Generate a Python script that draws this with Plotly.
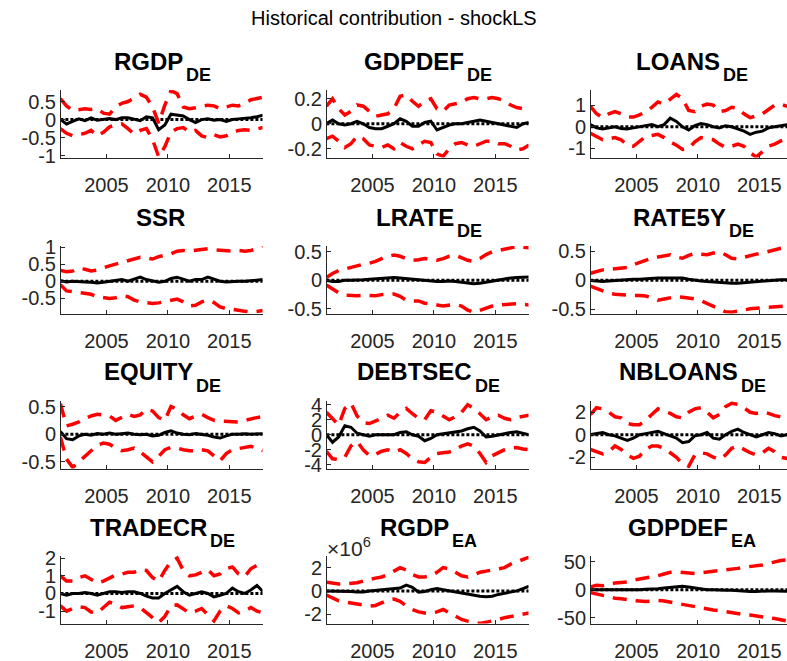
import plotly.graph_objects as go

# ---------------- data ----------------
dates = [2001.25, 2001.75, 2002.25, 2002.75, 2003.25, 2003.75, 2004.25, 2004.75,
         2005.25, 2005.75, 2006.25, 2006.75, 2007.25, 2007.75, 2008.25, 2008.75,
         2009.25, 2009.75, 2010.25, 2010.75, 2011.25, 2011.75, 2012.25, 2012.75,
         2013.25, 2013.75, 2014.25, 2014.75, 2015.25, 2015.75, 2016.25, 2016.75,
         2017.25, 2017.75]

var_names = ["RGDP", "GDPDEF", "LOANS", "SSR", "LRATE", "RATE5Y",
             "EQUITY", "DEBTSEC", "NBLOANS", "TRADECR", "RGDP", "GDPDEF"]
var_subs = ["DE", "DE", "DE", "", "DE", "DE", "DE", "DE", "DE", "DE", "EA", "EA"]

x_ticks = [2005, 2010, 2015]
x_ticklabels = ["2005", "2010", "2015"]

# RGDP_DE
rgdp_de_up = [0.58, 0.38, 0.25, 0.28, 0.30, 0.28, 0.30, 0.18, 0.15, 0.35, 0.45, 0.50, 0.60, 0.70, 0.62, 0.35, -0.10,
              0.40, 0.80, 0.72, 0.35, 0.30, 0.33, 0.36, 0.40, 0.38, 0.30, 0.35, 0.40, 0.38, 0.45, 0.55, 0.58, 0.62]
rgdp_de_lo = [-0.25, -0.38, -0.45, -0.42, -0.38, -0.30, -0.45, -0.35, -0.20, -0.15, -0.12, -0.25, -0.40, -0.30, -0.25,
              -0.55, -1.03, -0.75, -0.35, -0.25, -0.22, -0.35, -0.30, -0.45, -0.50, -0.42, -0.48, -0.45, -0.35, -0.30,
              -0.28, -0.30, -0.25, -0.22]
rgdp_de_md = [0.0, -0.12, -0.05, 0.02, -0.03, 0.05, -0.02, 0.0, 0.03, 0.0, 0.05, 0.05, 0.0, -0.03, 0.08, 0.05, -0.28,
              -0.15, 0.15, 0.12, 0.10, 0.0, -0.08, 0.0, 0.02, -0.02, 0.0, -0.05, 0.0, 0.02, 0.03, 0.05, 0.08, 0.12]

# GDPDEF_DE
gdpdef_de_up = [0.14, 0.20, 0.12, 0.07, 0.10, 0.15, 0.14, 0.10, 0.06, 0.07, 0.08, 0.12, 0.22, 0.23, 0.18, 0.14, 0.18,
                0.20, 0.12, 0.10, 0.15, 0.16, 0.17, 0.20, 0.21, 0.20, 0.20, 0.21, 0.20, 0.18, 0.15, 0.13, 0.12, 0.15]
gdpdef_de_lo = [-0.12, -0.10, -0.14, -0.19, -0.16, -0.10, -0.12, -0.17, -0.18, -0.19, -0.17, -0.20, -0.15, -0.18,
                -0.20, -0.17, -0.14, -0.15, -0.24, -0.26, -0.20, -0.16, -0.15, -0.17, -0.18, -0.16, -0.14, -0.14,
                -0.16, -0.16, -0.18, -0.21, -0.20, -0.17]
gdpdef_de_md = [0.0, 0.03, 0.0, -0.01, 0.0, 0.02, 0.0, -0.03, -0.04, -0.04, -0.02, 0.0, 0.04, 0.02, -0.02, -0.02, 0.01,
                0.02, -0.05, -0.03, -0.01, 0.0, 0.0, 0.01, 0.02, 0.03, 0.02, 0.01, 0.0, -0.01, -0.02, -0.03, 0.0, 0.01]

# LOANS_DE
loans_de_up = [0.95, 0.60, 0.42, 0.60, 0.70, 0.60, 0.45, 0.45, 0.55, 0.70, 0.90, 1.15, 1.05, 1.30, 1.50, 1.30, 0.75,
               0.70, 0.95, 1.05, 1.00, 0.70, 0.75, 0.90, 0.85, 0.60, 0.42, 0.50, 0.60, 0.80, 1.00, 1.05, 0.95, 1.00]
loans_de_lo = [-0.30, -0.45, -0.60, -0.55, -0.50, -0.60, -0.85, -0.90, -0.65, -0.45, -0.40, -0.35, -0.50, -0.70, -0.85,
               -1.05, -1.00, -0.70, -0.50, -0.55, -0.60, -0.80, -0.95, -0.90, -0.80, -0.90, -1.20, -1.40, -1.15, -0.90,
               -0.80, -0.65, -0.55, -0.35]
loans_de_md = [0.10, -0.05, -0.10, -0.05, 0.0, -0.08, -0.10, -0.05, 0.0, 0.05, 0.10, 0.0, 0.10, 0.40, 0.25, 0.0, -0.15,
               0.05, 0.15, 0.10, 0.0, -0.05, 0.05, 0.0, -0.10, -0.20, -0.35, -0.25, -0.20, -0.05, 0.0, 0.05, 0.10, 0.20]

# SSR
ssr_up = [0.32, 0.28, 0.30, 0.38, 0.35, 0.30, 0.33, 0.40, 0.45, 0.50, 0.55, 0.60, 0.65, 0.70, 0.68, 0.65, 0.72, 0.75,
          0.80, 0.88, 0.90, 0.88, 0.90, 0.92, 0.95, 0.92, 0.90, 0.90, 0.88, 0.90, 0.88, 0.90, 0.95, 1.03]
ssr_lo = [-0.10, -0.28, -0.30, -0.33, -0.35, -0.38, -0.45, -0.48, -0.50, -0.48, -0.42, -0.45, -0.55, -0.60, -0.63,
          -0.65, -0.63, -0.60, -0.55, -0.52, -0.60, -0.72, -0.70, -0.60, -0.55, -0.62, -0.75, -0.80, -0.82, -0.85,
          -0.87, -0.90, -0.88, -0.85]
ssr_md = [0.02, -0.02, 0.0, 0.0, -0.02, -0.03, -0.05, -0.03, 0.0, 0.03, 0.05, 0.0, 0.05, 0.12, 0.05, 0.0, -0.03, 0.0,
          0.08, 0.12, 0.05, 0.0, 0.05, 0.05, 0.12, 0.05, 0.0, -0.02, 0.0, 0.0, 0.0, 0.02, 0.03, 0.05]

# LRATE_DE
lrate_de_up = [0.05, 0.12, 0.17, 0.20, 0.22, 0.25, 0.28, 0.30, 0.33, 0.38, 0.42, 0.44, 0.42, 0.38, 0.35, 0.36, 0.38,
               0.37, 0.35, 0.38, 0.42, 0.44, 0.40, 0.35, 0.33, 0.38, 0.45, 0.50, 0.52, 0.54, 0.57, 0.59, 0.58, 0.57]
lrate_de_lo = [-0.08, -0.15, -0.22, -0.26, -0.27, -0.27, -0.26, -0.27, -0.27, -0.25, -0.24, -0.24, -0.28, -0.35,
               -0.36, -0.36, -0.40, -0.41, -0.43, -0.45, -0.44, -0.42, -0.45, -0.52, -0.56, -0.52, -0.48, -0.45,
               -0.43, -0.42, -0.41, -0.41, -0.42, -0.43]
lrate_de_md = [0.0, -0.02, -0.02, 0.0, 0.0, 0.0, 0.01, 0.02, 0.03, 0.03, 0.04, 0.05, 0.04, 0.03, 0.02, 0.0, -0.01,
               -0.02, -0.02, -0.02, -0.01, -0.02, -0.03, -0.05, -0.06, -0.05, -0.03, -0.02, 0.0, 0.02, 0.04, 0.05,
               0.06, 0.06]

# RATE5Y_DE
rate5y_de_up = [0.12, 0.15, 0.18, 0.19, 0.20, 0.20, 0.22, 0.27, 0.31, 0.34, 0.38, 0.40, 0.42, 0.44, 0.40, 0.38, 0.43,
                0.46, 0.45, 0.44, 0.47, 0.49, 0.44, 0.38, 0.37, 0.40, 0.43, 0.45, 0.47, 0.50, 0.52, 0.55, 0.57, 0.58]
rate5y_de_lo = [-0.10, -0.14, -0.18, -0.22, -0.24, -0.25, -0.26, -0.26, -0.26, -0.27, -0.30, -0.34, -0.32, -0.30,
                -0.28, -0.29, -0.30, -0.32, -0.35, -0.40, -0.45, -0.50, -0.54, -0.55, -0.53, -0.50, -0.49, -0.48,
                -0.47, -0.46, -0.45, -0.45, -0.44, -0.44]
rate5y_de_md = [0.0, -0.01, -0.02, -0.01, 0.0, 0.0, 0.01, 0.02, 0.02, 0.03, 0.03, 0.04, 0.04, 0.04, 0.05, 0.04, 0.02,
                0.0, -0.01, -0.02, -0.03, -0.04, -0.05, -0.05, -0.05, -0.04, -0.03, -0.02, -0.01, 0.0, 0.0, 0.01,
                0.01, 0.02]

# EQUITY_DE
equity_de_up = [0.55, 0.15, 0.18, 0.22, 0.28, 0.33, 0.36, 0.35, 0.33, 0.25, 0.30, 0.36, 0.32, 0.35, 0.45, 0.42, 0.30,
                0.25, 0.50, 0.45, 0.35, 0.28, 0.33, 0.36, 0.30, 0.25, 0.24, 0.23, 0.22, 0.22, 0.25, 0.28, 0.30, 0.32]
equity_de_lo = [-0.05, -0.45, -0.60, -0.50, -0.38, -0.28, -0.20, -0.16, -0.18, -0.25, -0.30, -0.28, -0.25, -0.32,
                -0.42, -0.50, -0.40, -0.28, -0.24, -0.25, -0.28, -0.30, -0.30, -0.28, -0.30, -0.40, -0.48, -0.35,
                -0.28, -0.26, -0.24, -0.22, -0.25, -0.30]
equity_de_md = [0.05, -0.08, -0.10, -0.03, 0.0, -0.02, 0.01, 0.0, 0.02, 0.0, 0.01, 0.02, 0.0, -0.01, 0.0, -0.03,
                -0.02, 0.03, 0.06, 0.02, 0.0, -0.01, 0.01, 0.0, -0.02, -0.05, -0.07, -0.03, 0.0, 0.0, 0.01, 0.0,
                0.0, 0.01]

# DEBTSEC_DE
debtsec_de_up = [3.0, 2.2, 1.3, 3.5, 4.2, 2.5, 1.6, 1.5, 1.8, 2.2, 2.6, 2.2, 3.0, 3.5, 2.8, 2.2, 2.0, 3.2, 3.0, 2.5,
                 2.0, 2.4, 3.0, 4.0, 3.5, 2.8, 2.0, 2.4, 2.6, 2.2, 2.0, 2.3, 2.5, 2.6]
debtsec_de_lo = [-2.2, -3.2, -3.3, -3.0, -1.5, -0.9, -2.0, -2.8, -2.6, -2.2, -2.0, -2.3, -2.0, -2.5, -3.2, -3.6,
                 -3.7, -3.0, -2.5, -2.4, -2.3, -2.0, -1.5, -1.2, -1.5, -2.5, -3.7, -2.8, -2.4, -2.0, -1.8, -1.7,
                 -1.9, -2.0]
debtsec_de_md = [0.0, -1.0, -0.3, 1.2, 1.0, 0.2, 0.0, -0.2, 0.0, 0.0, -0.1, 0.0, 0.3, 0.4, 0.0, -0.2, -0.8, -0.5,
                 0.0, 0.1, 0.2, 0.3, 0.5, 0.8, 1.0, 0.5, -0.3, -0.2, 0.0, 0.2, 0.3, 0.4, 0.2, 0.0]

# NBLOANS_DE
nbloans_de_up = [1.8, 2.4, 2.3, 2.0, 1.6, 1.5, 1.0, 0.9, 0.9, 1.3, 1.8, 2.3, 2.1, 1.9, 1.6, 1.5, 2.0, 2.3, 2.4, 2.0,
                 1.5, 1.8, 2.5, 2.8, 2.7, 2.4, 2.0, 1.9, 2.0, 1.9, 1.7, 1.6, 1.6, 1.7]
nbloans_de_lo = [-1.3, -1.5, -1.7, -1.5, -1.0, -1.3, -1.8, -2.1, -1.9, -1.3, -1.0, -1.0, -1.2, -1.6, -2.0, -2.6,
                 -2.8, -1.8, -1.6, -1.7, -2.0, -2.2, -1.8, -1.2, -1.0, -1.3, -1.6, -1.8, -1.6, -1.2, -1.5, -2.0,
                 -2.1, -2.0]
nbloans_de_md = [0.0, 0.1, 0.2, 0.0, -0.1, -0.3, -0.5, -0.3, 0.0, 0.1, 0.2, 0.3, 0.1, -0.1, -0.3, -0.7, -0.6, -0.1,
                 0.0, 0.2, -0.3, -0.4, 0.0, 0.3, 0.5, 0.2, 0.0, -0.2, 0.0, 0.2, 0.1, -0.1, 0.0, 0.1]

# TRADECR_DE
tradecr_de_up = [1.0, 0.7, 0.7, 0.9, 1.0, 0.8, 0.6, 0.7, 0.9, 1.05, 1.1, 1.2, 1.2, 1.35, 1.3, 0.9, 0.7, 1.3, 1.8,
                 2.0, 1.3, 1.0, 1.05, 1.2, 1.35, 1.0, 1.1, 1.4, 1.5, 1.1, 0.95, 1.4, 1.6, 1.25]
tradecr_de_lo = [-0.7, -1.0, -0.85, -0.75, -0.8, -1.05, -1.1, -0.8, -0.5, -0.6, -0.8, -0.75, -0.7, -0.8, -1.1, -1.4,
                 -1.65, -1.3, -0.7, -0.65, -0.9, -1.1, -1.0, -0.85, -1.2, -1.55, -1.0, -0.7, -0.85, -1.1, -1.0, -0.8,
                 -1.0, -1.1]
tradecr_de_md = [0.0, -0.1, 0.0, 0.0, 0.05, 0.0, -0.1, 0.0, 0.1, 0.1, 0.05, 0.1, 0.1, 0.0, -0.15, -0.25, -0.25, 0.0,
                 0.2, 0.4, 0.1, -0.1, 0.0, 0.1, 0.0, -0.2, -0.1, 0.0, 0.3, 0.1, 0.0, 0.2, 0.45, 0.1]

# RGDP_EA (in units of 10^6)
rgdp_ea_up = [0.75, 0.65, 0.6, 0.6, 0.65, 0.7, 0.85, 1.0, 1.1, 1.2, 1.4, 1.7, 2.0, 1.8, 1.4, 1.2, 1.2, 1.3, 1.6, 2.0,
              1.9, 1.6, 1.3, 1.2, 1.4, 1.6, 1.7, 1.8, 1.9, 2.0, 2.3, 2.5, 2.7, 2.9]
rgdp_ea_lo = [-0.35, -0.6, -0.85, -0.95, -1.05, -1.1, -1.2, -1.3, -1.25, -1.0, -0.8, -0.7, -0.9, -1.3, -1.6, -1.8,
              -1.9, -1.9, -1.8, -1.6, -1.9, -2.2, -2.45, -2.6, -2.7, -2.8, -2.7, -2.6, -2.45, -2.3, -2.2, -2.1, -2.0,
              -1.9]
rgdp_ea_md = [0.0, 0.0, 0.0, -0.05, -0.05, -0.1, -0.1, 0.0, 0.05, 0.1, 0.15, 0.2, 0.25, 0.5, 0.3, -0.1, -0.05, 0.1,
              0.2, 0.1, 0.0, -0.1, -0.2, -0.3, -0.35, -0.45, -0.5, -0.45, -0.3, -0.2, -0.1, 0.0, 0.2, 0.4]

# GDPDEF_EA
gdpdef_ea_up = [5, 8, 7, 10, 12, 13, 14, 17, 19, 21, 22, 25, 28, 31, 32, 31, 30, 29, 30, 32, 33, 34, 35, 36, 38, 40,
                41, 42, 44, 47, 50, 52, 53, 55]
gdpdef_ea_lo = [-5, -8, -10, -12, -15, -16, -18, -19, -20, -21, -20, -19, -20, -22, -24, -26, -28, -30, -33, -35,
                -36, -37, -39, -41, -43, -44, -45, -47, -48, -50, -51, -53, -55, -58]
gdpdef_ea_md = [0, 0, 0, -1, -1, -1, 0, 0, 0, 1, 1, 2, 3, 4, 5, 6, 5, 3, 1, 0, 0, -1, -1, -1, -2, -2, -3, -3, -2, -2,
                -2, -2, -2, -3]

zero_line = [0] * len(dates)

uppers = [rgdp_de_up, gdpdef_de_up, loans_de_up, ssr_up, lrate_de_up, rate5y_de_up,
          equity_de_up, debtsec_de_up, nbloans_de_up, tradecr_de_up, rgdp_ea_up, gdpdef_ea_up]
lowers = [rgdp_de_lo, gdpdef_de_lo, loans_de_lo, ssr_lo, lrate_de_lo, rate5y_de_lo,
          equity_de_lo, debtsec_de_lo, nbloans_de_lo, tradecr_de_lo, rgdp_ea_lo, gdpdef_ea_lo]
medians = [rgdp_de_md, gdpdef_de_md, loans_de_md, ssr_md, lrate_de_md, rate5y_de_md,
           equity_de_md, debtsec_de_md, nbloans_de_md, tradecr_de_md, rgdp_ea_md, gdpdef_ea_md]

y_ranges = [[-1.05, 0.82], [-0.27, 0.27], [-1.42, 1.7], [-0.94, 1.03], [-0.58, 0.6], [-0.57, 0.59],
            [-0.62, 0.6], [-4.5, 4.5], [-3.0, 3.0], [-1.7, 2.12], [-2.8, 3.0], [-60, 60]]
y_ticks = [[-1, -0.5, 0, 0.5], [-0.2, 0, 0.2], [-1, 0, 1], [-0.5, 0, 0.5, 1], [-0.5, 0, 0.5], [-0.5, 0, 0.5],
           [-0.5, 0, 0.5], [-4, -2, 0, 2, 4], [-2, 0, 2], [-1, 0, 1, 2], [-2, 0, 2], [-50, 0, 50]]
y_ticklabels = [["-1", "-0.5", "0", "0.5"], ["-0.2", "0", "0.2"], ["-1", "0", "1"], ["-0.5", "0", "0.5", "1"],
                ["-0.5", "0", "0.5"], ["-0.5", "0", "0.5"], ["-0.5", "0", "0.5"], ["-4", "-2", "0", "2", "4"],
                ["-2", "0", "2"], ["-1", "0", "1", "2"], ["-2", "0", "2"], ["-50", "0", "50"]]

# ---------------- layout geometry (window pixels; page margin removed) ----------------
W, H = 787, 661

col_left = [61, 327, 591]
ax_w = 201.5
row_top = [90, 246, 401, 556]
ax_h = 67.5
x0, x1 = 2001.3, 2017.7
px_per_year = ax_w / (x1 - x0)


def fx(px):
    return px / W


def fy(py):
    return 1 - py / H


AXC = "#262626"
FONT = "Liberation Sans, Arial, sans-serif"

BW = {"A": 722, "B": 722, "C": 722, "D": 722, "E": 667, "F": 611, "G": 778, "H": 722, "I": 278, "L": 611,
      "N": 722, "O": 778, "P": 667, "Q": 778, "R": 722, "S": 667, "T": 611, "U": 722, "Y": 667, "5": 556}


def tw(s, size):
    return sum(BW.get(c, 667) for c in s) / 1000.0 * size


fig = go.Figure()
annotations = []
FM, FS = 24, 18

for i in range(12):
    r, c = divmod(i, 3)
    k = "" if i == 0 else str(i + 1)
    left = col_left[c]
    right = min(left + ax_w, W)
    top = row_top[r]
    xr_end = x0 + (right - left) / px_per_year
    xd = [fx(left), fx(right)]
    yd = [fy(top + ax_h), fy(top)]

    fig.add_trace(go.Scatter(x=dates, y=medians[i], mode="lines", line=dict(color="black", width=3),
                             xaxis="x" + k, yaxis="y" + k, showlegend=False, hoverinfo="skip"))
    fig.add_trace(go.Scatter(x=dates, y=zero_line, mode="lines",
                             line=dict(color="black", width=3, dash="3px,2px"),
                             xaxis="x" + k, yaxis="y" + k, showlegend=False, hoverinfo="skip"))
    for band in (uppers[i], lowers[i]):
        fig.add_trace(go.Scatter(x=dates, y=band, mode="lines",
                                 line=dict(color="#ff0000", width=3.5, dash="14px,9px"),
                                 xaxis="x" + k, yaxis="y" + k, showlegend=False, hoverinfo="skip"))

    common = dict(showgrid=False, zeroline=False, showline=True, linecolor=AXC, linewidth=1,
                  ticks="inside", ticklen=4, tickcolor=AXC, tickfont=dict(family=FONT, size=20, color=AXC),
                  ticklabeloverflow="allow", automargin=False)
    fig.update_layout(**{
        "xaxis" + k: dict(domain=xd, range=[x0, xr_end], tickmode="array", tickvals=x_ticks,
                          ticktext=x_ticklabels, anchor="y" + k, ticklabelstandoff=9, **common),
        "yaxis" + k: dict(domain=yd, range=y_ranges[i], tickmode="array", tickvals=y_ticks[i],
                          ticktext=y_ticklabels[i], anchor="x" + k, **common),
    })

    if i == 10:
        annotations.append(dict(text="\u00d710<sup>6</sup>", x=fx(left - 2), y=fy(top - 9),
                                xref="paper", yref="paper", xanchor="left", yanchor="middle", showarrow=False,
                                font=dict(family=FONT, size=21, color=AXC)))

    cx = left + ax_w / 2
    name, sub = var_names[i], var_subs[i]
    wm = tw(name, FM)
    ws = tw(sub, FS) if sub else 0
    xj = cx + (wm - ws) / 2
    annotations.append(dict(text="<b>%s</b>" % name, x=fx(xj + 1), y=fy(top - 29), xref="paper", yref="paper",
                            xanchor="right", yanchor="middle", showarrow=False,
                            font=dict(family=FONT, size=FM, color="black")))
    if sub:
        annotations.append(dict(text="<b>%s</b>" % sub, x=fx(xj), y=fy(top - 15.5), xref="paper",
                                yref="paper", xanchor="left", yanchor="middle", showarrow=False,
                                font=dict(family=FONT, size=FS, color="black")))

annotations.append(dict(text="Historical contribution - shockLS", x=fx(394), y=fy(18), xref="paper", yref="paper",
                        xanchor="center", yanchor="middle", showarrow=False,
                        font=dict(family=FONT, size=20, color="black")))

fig.update_layout(width=W, height=H, margin=dict(l=0, r=0, t=0, b=0, autoexpand=False), paper_bgcolor="white",
                  plot_bgcolor="white", annotations=annotations, showlegend=False)

fig.write_html("out.html", config={"displayModeBar": False},
               post_script="document.body.style.margin='0px';document.body.style.overflow='hidden';")
